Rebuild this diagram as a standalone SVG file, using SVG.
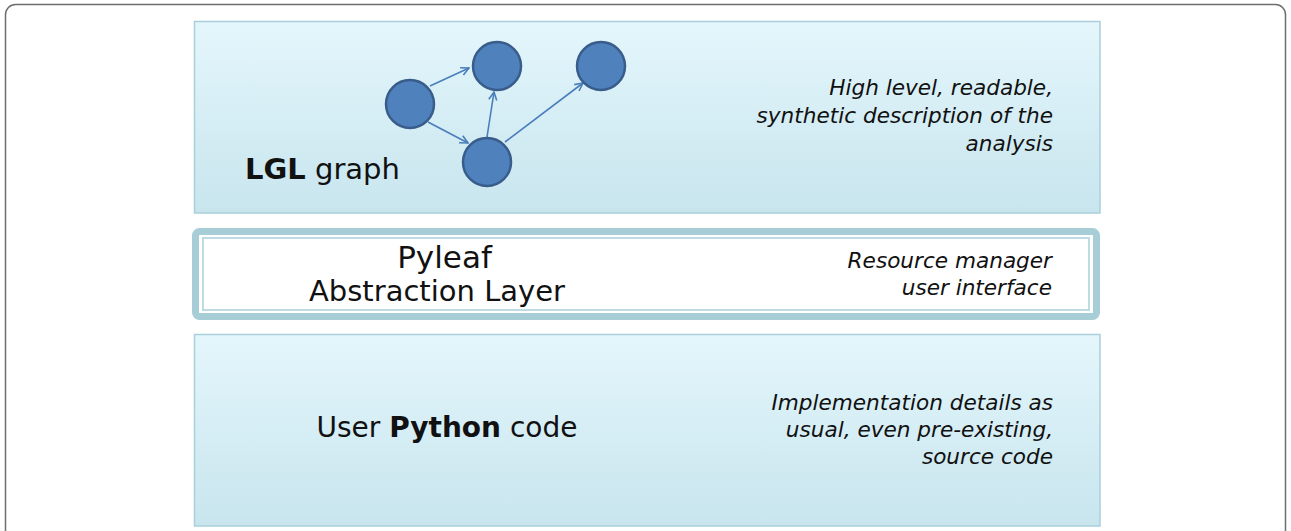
<svg xmlns="http://www.w3.org/2000/svg" width="1291" height="531" viewBox="0 0 1291 531">
<defs>
<linearGradient id="bg" x1="0" y1="0" x2="0" y2="1">
<stop offset="0" stop-color="#e4f6fc"/>
<stop offset="1" stop-color="#c8e5ee"/>
</linearGradient>
<marker id="ah" viewBox="0 0 10 10" refX="9" refY="5" markerWidth="10" markerHeight="10" markerUnits="userSpaceOnUse" orient="auto">
<path d="M1,1 L9,5 L1,9" fill="none" stroke="#4a7ebb" stroke-width="1.6"/>
</marker>
</defs>
<style>
text{font-family:"DejaVu Sans","Verdana",sans-serif;fill:#111}
.layer{fill:url(#bg);stroke:#a9d0da;stroke-width:1.5}
.note{font-style:italic;font-size:21.6px;text-anchor:end}
.node{fill:#4f81bd;stroke:#385d8a;stroke-width:2.5}
.edge{stroke:#4a7ebb;stroke-width:1.6;fill:none;marker-end:url(#ah)}
</style>
<rect x="5.5" y="4.5" width="1280" height="560" rx="10" fill="#fff" stroke="#6e6e6e" stroke-width="1.5"/>

<g id="layer-lgl">
<rect class="layer" x="194.5" y="21.5" width="905.5" height="191.5"/>
<text x="245" y="179" font-size="29"><tspan font-weight="bold">LGL</tspan> graph</text>
<text class="note" x="1053" y="95">High level, readable,</text>
<text class="note" x="1053" y="123">synthetic description of the</text>
<text class="note" x="1053" y="151">analysis</text>
</g>

<g id="connectors">
<line class="edge" x1="430" y1="86" x2="469" y2="68"/>
<line class="edge" x1="428" y1="122" x2="468" y2="143"/>
<line class="edge" x1="487" y1="137" x2="494" y2="92"/>
<line class="edge" x1="505" y1="142" x2="583" y2="83"/>
</g>

<g id="node-1"><circle class="node" cx="410" cy="104" r="24"/></g>
<g id="node-2"><circle class="node" cx="497" cy="66" r="24"/></g>
<g id="node-3"><circle class="node" cx="601" cy="66" r="24"/></g>
<g id="node-4"><circle class="node" cx="487" cy="162" r="24"/></g>

<g id="layer-pyleaf">
<rect x="195.5" y="231.5" width="901" height="85" rx="4" fill="#fff" stroke="#a7cdd7" stroke-width="7"/>
<rect x="203" y="238" width="886" height="72" fill="none" stroke="#bddbe3" stroke-width="2"/>
<text x="444.5" y="268" font-size="31" text-anchor="middle">Pyleaf</text>
<text x="437" y="301" font-size="29" text-anchor="middle">Abstraction Layer</text>
<text class="note" x="1052" y="268">Resource manager</text>
<text class="note" x="1052" y="295">user interface</text>
</g>

<g id="layer-python">
<rect class="layer" x="194.5" y="334.5" width="905.5" height="191.5"/>
<text x="447" y="437" font-size="28" text-anchor="middle">User <tspan font-weight="bold">Python</tspan> code</text>
<text class="note" x="1053" y="410">Implementation details as</text>
<text class="note" x="1053" y="437">usual, even pre-existing,</text>
<text class="note" x="1053" y="464">source code</text>
</g>
</svg>
